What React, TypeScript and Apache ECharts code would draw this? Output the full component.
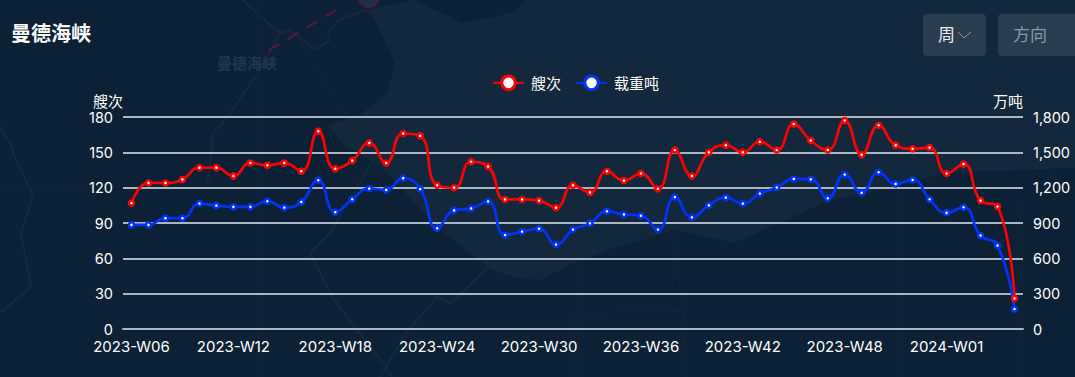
import React, { useEffect, useRef } from "react";
import * as echarts from "echarts";

const categories = [
  "2023-W06","2023-W07","2023-W08","2023-W09","2023-W10","2023-W11","2023-W12","2023-W13","2023-W14","2023-W15","2023-W16","2023-W17",
  "2023-W18","2023-W19","2023-W20","2023-W21","2023-W22","2023-W23","2023-W24","2023-W25","2023-W26","2023-W27","2023-W28","2023-W29",
  "2023-W30","2023-W31","2023-W32","2023-W33","2023-W34","2023-W35","2023-W36","2023-W37","2023-W38","2023-W39","2023-W40","2023-W41",
  "2023-W42","2023-W43","2023-W44","2023-W45","2023-W46","2023-W47","2023-W48","2023-W49","2023-W50","2023-W51","2023-W52","2023-W53",
  "2024-W01","2024-W02","2024-W03","2024-W04","2024-W05",
];
const shipCounts = [
  107,124,124,127,137,137,130,141,139,141,134,168,
  136,143,158,141,166,164,122,120,142,138,110,110,
  109,103,122,116,134,126,132,119,152,130,150,156,
  150,159,152,174,160,152,177,148,173,156,153,154,
  132,140,109,104,26,
];
const deadweight = [
  884,884,941,941,1065,1048,1037,1037,1085,1031,1079,1263,
  992,1102,1192,1181,1281,1188,855,1007,1024,1083,798,827,
  852,717,844,897,999,973,962,844,1120,948,1050,1116,
  1065,1150,1201,1274,1271,1110,1311,1156,1331,1232,1266,1102,
  986,1034,794,709,170,
];
const FONT = 'Inter, "Noto Sans CJK SC", sans-serif';
const CJK = '"Noto Sans CJK SC", sans-serif';

// Faint backdrop map, purely decorative
const landOutline = [
  [366,10],[414,0],[451,17],[462,23],[488,18],[514,12],[525,0],[1075,0],[1075,168],[1018,170],[950,172],[881,190],[830,200],
  [779,223],[735,243],[676,230],[608,250],[574,263],[540,280],[517,278],[492,270],[437,227],[379,165],[345,145],[327,125],
  [360,115],[387,93],[395,63],[373,17],
];
const mapLines = [
  [[243,0],[262,18],[280,33],[290,30],[315,50],[330,40],[328,33],[338,20],[366,10]],
  [[280,33],[258,73],[225,120],[213,133],[210,167],[207,183]],
  [[310,253],[330,233],[379,150]],
  [[310,253],[330,293],[344,313],[386,367],[392,377]],
  [[489,267],[451,303],[437,297],[406,333],[380,377]],
  [[0,127],[10,143],[15,158],[33,195],[21,233],[31,287],[0,313]],
  [[297,37],[347,117]],
  [[574,377],[574,313],[687,310]],
  [[676,230],[687,377]],
  [[1021,200],[1021,377]],
  [[258,0],[258,377]],
  [[578,0],[578,377]],
  [[899,0],[899,377]],
  [[0,187],[120,187]],
];

export default function App() {
  const ref = useRef<HTMLDivElement>(null);
  useEffect(() => {
    const chart = echarts.init(ref.current!, undefined, { renderer: "svg" });
    chart.setOption({
      animation: false,
      backgroundColor: "#0c2136",
      grid: { left: 123, right: 52, top: 117, bottom: 48 },
      legend: {
        top: 74.5, left: 492, padding: 0, itemWidth: 31, itemHeight: 17, itemGap: 14,
        itemStyle: { borderWidth: 3 },
        lineStyle: { width: 2 },
        textStyle: { color: "#fff", fontSize: 15, fontFamily: CJK, padding: [0, 0, 0, 2] },
      },
      xAxis: {
        type: "category", data: categories,
        axisLine: { lineStyle: { color: "#aab6c2", width: 2 } },
        axisTick: { alignWithLabel: true, length: 6, lineStyle: { color: "#aab6c2" } },
        axisLabel: { interval: 5, color: "#fff", fontSize: 15, margin: 10, fontFamily: FONT },
      },
      yAxis: [
        {
          type: "value", min: 0, max: 180, interval: 30, name: "艘次",
          nameGap: 9, nameTextStyle: { color: "#fff", fontSize: 15, fontFamily: CJK, align: "right" },
          axisLabel: { color: "#fff", fontSize: 14.5, margin: 10, fontFamily: FONT },
          axisLine: { show: false }, axisTick: { show: false },
          splitLine: { lineStyle: { color: "#aab6c2", width: 2 } },
        },
        {
          type: "value", min: 0, max: 1800, interval: 300, name: "万吨",
          nameGap: 9, nameTextStyle: { color: "#fff", fontSize: 15, fontFamily: CJK, align: "right" },
          axisLabel: { color: "#fff", fontSize: 14.5, margin: 10, fontFamily: FONT },
          axisLine: { show: false }, axisTick: { show: false },
          splitLine: { show: false },
        },
      ],
      series: [
        {
          name: "艘次", type: "line", smooth: true, yAxisIndex: 0, data: shipCounts,
          symbol: "circle", symbolSize: 5,
          lineStyle: { color: "#ff0000", width: 2.7 },
          itemStyle: { color: "#fff", borderColor: "#ff0000", borderWidth: 2.5 },
        },
        {
          name: "载重吨", type: "line", smooth: true, yAxisIndex: 1, data: deadweight,
          symbol: "circle", symbolSize: 5,
          lineStyle: { color: "#0033ff", width: 2.7 },
          itemStyle: { color: "#fff", borderColor: "#0033ff", borderWidth: 2.5 },
        },
      ],
      graphic: [
        { type: "polygon", z: -10, silent: true, shape: { points: landOutline }, style: { fill: "#13283c" } },
        ...mapLines.map((points, i) => ({
          type: "polyline", z: -9, silent: true, shape: { points },
          style: { stroke: i < 6 ? "#16293e" : "#13273b", fill: "none", lineWidth: i < 6 ? 2 : 1 },
        })),
        { type: "polyline", z: -8, silent: true, shape: { points: [[269,50],[345,5]] }, style: { stroke: "#5a1a35", fill: "none", lineWidth: 2, lineDash: [12, 10] } },
        { type: "circle", z: -8, silent: true, shape: { cx: 369, cy: -3, r: 10 }, style: { stroke: "#4d1c3a", fill: "#1b3145", lineWidth: 2 } },
        { type: "text", z: -7, left: 217, top: 55, silent: true, style: { text: "曼德海峡", fill: "#22384d", font: `bold 15px ${CJK}` } },
        { type: "text", left: 11, top: 22, silent: true, style: { text: "曼德海峡", fill: "#fff", font: `bold 20px ${CJK}` } },
        { type: "rect", shape: { x: 923, y: 14, width: 63, height: 42, r: 4 }, style: { fill: "#2a3d4f" } },
        { type: "text", left: 938, top: 25, style: { text: "周", fill: "#e6ebf0", font: `17px ${CJK}` } },
        { type: "polyline", shape: { points: [[958, 32], [964, 38], [971, 32]] }, style: { stroke: "#8b98a5", fill: "none", lineWidth: 1 } },
        { type: "rect", shape: { x: 998, y: 14, width: 85, height: 42, r: 4 }, style: { fill: "#2a3d4f" } },
        { type: "text", left: 1013, top: 25, style: { text: "方向", fill: "#8b98a5", font: `17px ${CJK}` } },
      ],
    });
    return () => chart.dispose();
  }, []);
  return <div ref={ref} style={{ position: "absolute", left: 0, top: 0, width: 1075, height: 377 }} />;
}
